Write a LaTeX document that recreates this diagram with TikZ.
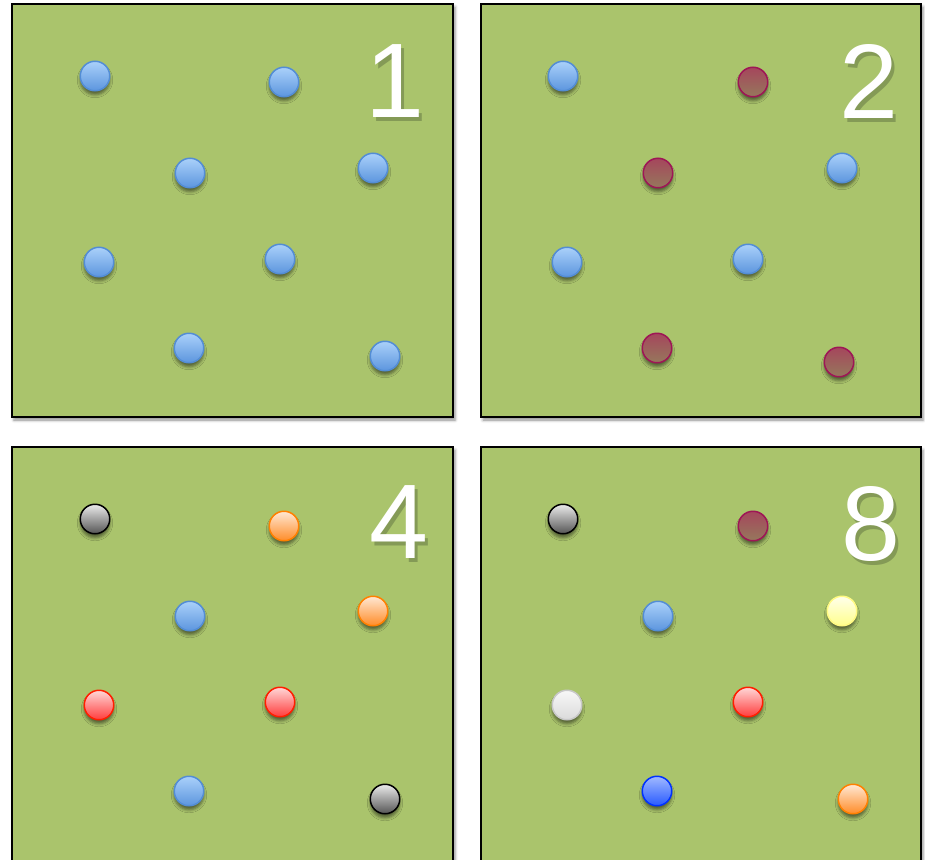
\documentclass[tikz,border=0pt]{standalone}
\usepackage{fontspec}
\setmainfont{Liberation Sans}
\usetikzlibrary{shadows.blur}

\definecolor{field}{RGB}{170,196,108}
\definecolor{bluerim}{RGB}{83,141,213}
\definecolor{bluetop}{RGB}{170,208,250}
\definecolor{bluebot}{RGB}{92,150,222}
\definecolor{maroonrim}{RGB}{158,22,86}
\definecolor{maroontop}{RGB}{165,70,92}
\definecolor{maroonbot}{RGB}{150,120,92}
\definecolor{grayrim}{RGB}{0,0,0}
\definecolor{graytop}{RGB}{235,235,235}
\definecolor{graybot}{RGB}{85,85,85}
\definecolor{orangerim}{RGB}{255,128,0}
\definecolor{orangetop}{RGB}{255,232,212}
\definecolor{orangebot}{RGB}{255,140,40}
\definecolor{redrim}{RGB}{255,30,0}
\definecolor{redtop}{RGB}{255,215,215}
\definecolor{redbot}{RGB}{255,60,60}
\definecolor{yellowrim}{RGB}{255,250,130}
\definecolor{yellowtop}{RGB}{255,255,235}
\definecolor{yellowbot}{RGB}{255,255,140}
\definecolor{whiterim}{RGB}{200,200,200}
\definecolor{whitetop}{RGB}{248,248,248}
\definecolor{whitebot}{RGB}{218,218,218}
\definecolor{navyrim}{RGB}{0,50,255}
\definecolor{navytop}{RGB}{160,185,255}
\definecolor{navybot}{RGB}{40,90,255}
\definecolor{numdark}{RGB}{132,154,86}

% a digit with its soft shadow behind it
\newcommand{\countdigit}[1]{\makebox[0pt][l]{\hspace{3pt}\raisebox{-4pt}{\color{numdark}#1}}#1}

\begin{document}
\begin{tikzpicture}[x=1pt,y=-1pt]
			\tikzstyle{panel} = [draw=black, line width=1.8pt, fill=field,
				blur shadow={shadow xshift=2pt, shadow yshift=-3pt, shadow opacity=45, shadow blur radius=3pt}]
			\tikzstyle{ball} = [circle, minimum size=29.5pt, inner sep=0pt, line width=1.5pt,
				blur shadow={shadow xshift=0pt, shadow yshift=-4pt, shadow opacity=50, shadow blur radius=3pt}]
			\tikzstyle{blue} = [ball, draw=bluerim, top color=bluetop, bottom color=bluebot]
			\tikzstyle{maroon} = [ball, draw=maroonrim, top color=maroontop, bottom color=maroonbot]
			\tikzstyle{gray} = [ball, draw=grayrim, top color=graytop, bottom color=graybot]
			\tikzstyle{orange} = [ball, draw=orangerim, top color=orangetop, bottom color=orangebot]
			\tikzstyle{red} = [ball, draw=redrim, top color=redtop, bottom color=redbot]
			\tikzstyle{yellow} = [ball, draw=yellowrim, top color=yellowtop, bottom color=yellowbot]
			\tikzstyle{white} = [ball, draw=whiterim, top color=whitetop, bottom color=whitebot]
			\tikzstyle{navy} = [ball, draw=navyrim, top color=navytop, bottom color=navybot]
			\tikzstyle{num} = [inner sep=0pt, text=white, font=\fontsize{106}{106}\selectfont]
			\useasboundingbox (0,0) rectangle (925,859);
			\clip (0,0) rectangle (925,859);
			% the four fields
			\draw[panel] (12,4) rectangle (453,417);
			\draw[panel] (481,4) rectangle (921,417);
			\draw[panel] (12,447) rectangle (453,900);
			\draw[panel] (481,447) rectangle (921,900);
			% field 1
			\foreach \x/\y/\s [count=\i] in {95/76/blue, 284/82/blue, 190/173/blue, 373/168/blue,
				99/262/blue, 280/259/blue, 189/348/blue, 385/356/blue}
			\node[\s] (a\i) at (\x,\y) {};
			% field 2
			\foreach \x/\y/\s [count=\i] in {563/76/blue, 753/82/maroon, 658/173/maroon, 842/168/blue,
				567/262/blue, 748/259/blue, 657/348/maroon, 839/362/maroon}
			\node[\s] (b\i) at (\x,\y) {};
			% field 4
			\foreach \x/\y/\s [count=\i] in {95/519/gray, 284/526/orange, 190/616/blue, 373/611/orange,
				99/705/red, 280/702/red, 189/791/blue, 385/799/gray}
			\node[\s] (c\i) at (\x,\y) {};
			% field 8
			\foreach \x/\y/\s [count=\i] in {563/519/gray, 753/526/maroon, 658/616/blue, 842/611/yellow,
				567/705/white, 748/702/red, 657/791/navy, 853/799/orange}
			\node[\s] (d\i) at (\x,\y) {};
			% counts
			\foreach \x/\y/\t in {395/83/1, 869/83/2, 399/524/4, 871/526/8}
			\node[num] (n\t) at (\x,\y) {\countdigit{\t}};
\end{tikzpicture}
\end{document}
